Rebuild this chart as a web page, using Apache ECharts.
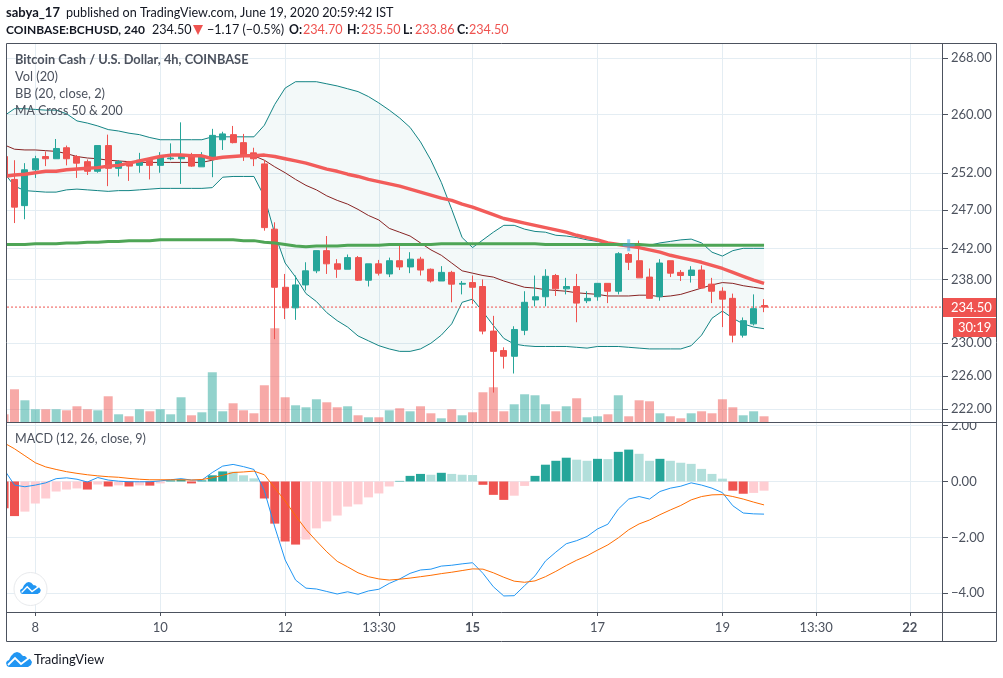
<!DOCTYPE html>
<html>
<head>
<meta charset="utf-8">
<style>html,body{margin:0;padding:0;background:#fff}#main{width:1003px;height:678px}</style>
<script src="https://cdn.jsdelivr.net/npm/echarts@6/dist/echarts.min.js"></script>
</head>
<body>
<div id="main"></div>
<script>
// 4h bars
const opens=[254.2,251.1,247.6,252.4,254.2,253.9,255.4,254.2,253.5,252.2,255.7,252.6,253.5,253.0,253.7,253.0,253.9,253.9,254.4,252.8,253.9,256.5,257.2,256.1,254.7,253.2,244.5,237.0,234.4,237.3,239.1,241.7,240.0,239.3,240.8,237.9,240.0,238.7,240.4,239.6,240.6,239.3,237.8,238.9,237.4,237.6,237.1,231.5,229.1,228.4,231.6,235.4,235.8,238.5,236.8,237.1,235.3,235.8,237.5,236.5,241.2,240.4,238.3,235.8,240.4,238.9,238.5,239.2,237.4,236.5,235.6,231.0,232.4,234.70];
const closes=[251.4,247.4,252.4,253.9,253.9,255.3,253.9,253.3,252.2,255.7,252.6,253.5,252.9,253.7,253.0,254.2,254.0,254.2,252.9,254.2,257.1,257.3,256.1,254.3,253.9,244.7,237.0,234.4,237.3,239.1,241.7,240.0,239.3,240.8,237.9,240.0,238.8,240.4,239.6,240.6,239.2,237.8,238.9,237.4,237.5,237.0,231.5,229.0,228.4,231.7,235.1,235.8,238.4,236.8,237.1,235.0,235.6,237.5,236.5,241.3,240.2,238.2,235.6,240.1,238.8,238.5,239.2,236.9,236.5,235.5,231.0,232.8,234.3,234.50];
const lows=[251.4,245.3,245.8,251.3,252.9,253.9,253.0,251.3,251.7,252.0,250.2,251.5,250.9,252.0,251.1,252.0,253.7,250.5,252.8,252.8,251.4,255.1,256.0,253.6,252.9,244.3,230.5,233.0,232.9,236.6,238.8,238.7,238.2,239.3,237.8,237.1,238.5,238.3,239.2,238.8,238.5,237.6,237.8,235.1,236.1,234.9,231.1,224.0,226.9,226.3,231.0,234.6,234.6,235.9,236.1,232.6,235.0,235.3,235.0,236.1,239.2,238.2,235.6,235.3,238.3,237.8,237.6,236.9,235.0,232.0,230.1,230.7,232.2,233.86];
const highs=[254.2,253.7,253.3,254.3,254.9,256.6,255.7,254.4,253.8,255.7,257.2,253.7,253.6,254.7,253.9,254.8,256.0,258.9,254.7,254.8,258.0,257.6,258.4,257.3,255.4,253.7,245.4,238.7,238.5,240.2,241.7,243.6,240.6,241.2,241.0,240.0,240.5,240.8,242.3,241.5,240.9,239.4,239.7,239.1,237.8,238.5,238.0,233.4,229.5,232.1,236.5,238.5,239.3,238.7,238.2,238.7,236.5,237.5,237.5,241.5,241.4,243.0,239.4,240.6,240.4,239.2,239.7,239.8,238.2,237.0,236.2,233.2,236.1,235.50];
const volumes=[8,33,22,13,13,13,12,16,13,12,26,8,6,13,11,13,8,25,7,10,50,11,19,12,9,37,94,25,17,15,23,20,15,16,7,5,5,12,14,11,16,9,4,13,7,10,30,35,11,18,28,27,18,11,16,24,5,6,8,27,6,22,21,9,6,4,9,11,9,23,15,7,11,6];
const bbUpper=[259.8,260.8,260.8,260.7,260.6,260.6,260.1,259.1,258.8,258.4,257.9,257.7,257.4,257.2,256.8,256.5,256.5,256.5,256.5,256.5,256.9,256.9,256.9,256.9,256.9,258.5,261.4,263.7,264.6,264.6,264.6,264.3,264.0,263.6,263.2,262.5,261.6,260.6,259.5,258.2,256.2,253.7,250.7,247.1,243.4,242.1,243.1,244.1,245.0,245.0,244.5,244.2,244.1,243.7,243.6,243.4,243.1,242.9,242.6,242.4,242.5,242.5,242.4,242.7,242.9,243.1,243.2,242.7,241.5,241.0,241.7,242.0,242.0,242.0];
const bbBasis=[255.8,255.2,255.1,255.1,255.0,254.9,254.6,254.2,254.0,253.9,253.7,253.6,253.5,253.4,253.4,253.4,253.4,253.4,253.4,253.4,253.7,254.1,254.2,254.3,254.3,253.7,252.8,252.0,251.1,250.3,249.7,248.9,248.3,247.8,247.1,246.3,245.7,244.6,244.1,243.6,242.7,241.8,241.1,240.1,239.1,238.8,238.5,238.3,237.8,237.4,237.0,236.9,236.7,236.6,236.5,236.3,236.2,236.1,235.9,235.9,235.9,236.0,236.0,235.8,235.9,236.1,236.5,236.9,237.3,237.6,237.5,237.2,237.0,236.8];
const bbLower=[252.0,250.2,249.6,249.5,249.4,249.4,249.7,249.8,249.7,249.6,249.5,249.6,249.6,249.7,249.8,249.9,249.9,249.9,249.9,249.9,250.0,251.4,251.5,251.5,251.5,248.8,243.9,240.1,238.3,236.2,235.2,233.8,232.8,232.0,230.9,230.3,229.7,229.3,229.0,229.0,229.3,230.0,231.0,232.4,235.1,235.5,233.9,232.2,230.6,229.9,229.7,229.6,229.6,229.6,229.6,229.5,229.4,229.6,229.6,229.6,229.5,229.4,229.3,229.3,229.3,229.3,229.7,231.0,233.1,234.0,233.1,232.4,232.0,231.8];
const ma50=[251.5,251.7,251.8,252.0,252.2,252.2,252.4,252.5,252.6,252.7,252.9,253.0,253.3,253.6,253.9,254.2,254.4,254.4,254.3,254.3,253.9,254.1,254.2,254.3,254.3,254.4,254.2,253.9,253.6,253.3,252.9,252.5,252.2,251.8,251.5,251.1,250.8,250.5,250.2,249.8,249.4,249.0,248.6,248.3,247.8,247.4,246.9,246.4,245.9,245.6,245.3,245.0,244.7,244.4,244.1,243.7,243.4,243.1,242.7,242.5,242.3,242.1,241.8,241.5,241.1,240.8,240.5,240.2,239.8,239.4,238.9,238.4,237.9,237.5];
const ma200=[242.5,242.5,242.5,242.6,242.6,242.6,242.7,242.7,242.8,242.8,242.9,242.9,243.0,243.0,243.0,243.1,243.1,243.1,243.1,243.1,243.1,243.1,243.1,243.0,243.0,242.8,242.7,242.5,242.3,242.2,242.3,242.3,242.3,242.4,242.4,242.4,242.4,242.5,242.5,242.5,242.5,242.5,242.6,242.6,242.6,242.6,242.6,242.6,242.6,242.6,242.6,242.6,242.5,242.5,242.5,242.5,242.5,242.5,242.5,242.5,242.5,242.5,242.4,242.4,242.4,242.4,242.4,242.4,242.4,242.4,242.4,242.4,242.4,242.4];
const macdHist=[-0.96,-1.24,-1.08,-0.79,-0.61,-0.36,-0.29,-0.25,-0.29,-0.11,-0.18,-0.14,-0.18,-0.14,-0.15,-0.07,0.04,0.07,-0.07,0.04,0.22,0.36,0.35,0.22,0.11,-0.61,-1.51,-2.15,-2.26,-2.08,-1.68,-1.43,-1.22,-0.90,-0.82,-0.57,-0.43,-0.18,0.02,0.20,0.27,0.24,0.31,0.27,0.24,0.23,-0.12,-0.48,-0.66,-0.51,-0.16,0.20,0.60,0.74,0.85,0.78,0.74,0.81,0.80,1.06,1.14,0.99,0.74,0.81,0.74,0.67,0.63,0.45,0.27,0.10,-0.33,-0.44,-0.41,-0.33];
const macdLine=[0.43,-0.13,-0.19,-0.13,-0.05,0.10,0.13,0.08,-0.02,0.14,0.05,0.01,-0.01,-0.01,-0.01,0.02,0.06,0.10,0.05,0.05,0.32,0.55,0.61,0.53,0.43,-0.33,-1.63,-2.81,-3.53,-3.82,-3.85,-3.94,-4.03,-3.95,-4.04,-3.92,-3.86,-3.65,-3.49,-3.29,-3.17,-3.14,-3.03,-3.00,-2.95,-2.91,-3.29,-3.77,-4.10,-4.09,-3.73,-3.38,-2.85,-2.53,-2.23,-2.12,-1.97,-1.70,-1.53,-0.99,-0.63,-0.54,-0.63,-0.36,-0.24,-0.17,-0.05,-0.13,-0.24,-0.40,-0.87,-1.13,-1.16,-1.17];
const macdSignal=[1.38,1.17,0.92,0.67,0.52,0.43,0.35,0.29,0.24,0.20,0.17,0.15,0.11,0.08,0.06,0.06,0.06,0.06,0.05,0.07,0.13,0.22,0.32,0.34,0.37,0.24,-0.23,-0.70,-1.23,-1.72,-2.13,-2.52,-2.86,-3.06,-3.27,-3.41,-3.49,-3.53,-3.50,-3.46,-3.41,-3.36,-3.30,-3.25,-3.19,-3.13,-3.14,-3.27,-3.43,-3.57,-3.61,-3.56,-3.41,-3.22,-3.01,-2.82,-2.66,-2.46,-2.27,-2.02,-1.73,-1.52,-1.38,-1.19,-1.02,-0.86,-0.66,-0.54,-0.48,-0.47,-0.54,-0.63,-0.74,-0.84];
const priceTicks=[222,226,230,238,242,247,252,260,268];
const macdTicks=[-4,-2,0,2];
const dayTickBars=[3,15,27,36,45,57,69,78,87];
const dayTickLabels=['8','10','12','13:30','15','17','19','13:30','22'];
const boldDayLabels=['15','22'];
const lastPrice=234.50;
const crossBar=60, crossPrice=242.4;

const UP='#26a69a',DOWN='#ef5350',TXT='#4c525e',GRID='#e4edf3',INK='#131722';
const FONT='Lato';
const chart=echarts.init(document.getElementById('main'),null,{renderer:'canvas'});

const barIdx=opens.map((_,i)=>i);
const pair=a=>a.map((v,i)=>[i,v]);
const xRange={min:0.28,max:90.19};

function histColor(i){
  const v=macdHist[i],prev=i?macdHist[i-1]:0;
  if(v>=0) return v>=prev?UP:'#b2dfdb';
  return v<prev?DOWN:'#ffcdd2';
}
function lineSeries(name,data,color,width){
  return {name,type:'line',xAxisIndex:0,yAxisIndex:0,data:pair(data),symbol:'none',silent:true,
    lineStyle:{color,width},z:5};
}
function txt(text,x,y,opt){
  return {type:'text',x,y,z:50,silent:true,style:Object.assign({text,fill:TXT,font:'12.6px '+FONT,textVerticalAlign:'middle',verticalAlign:'middle'},opt||{})};
}
function hline(x1,y,x2){return {type:'line',z:40,silent:true,shape:{x1,y1:y,x2,y2:y},style:{stroke:TXT,lineWidth:1}}}
function vline(x,y1,y2){return {type:'line',z:40,silent:true,shape:{x1:x,y1,x2:x,y2},style:{stroke:TXT,lineWidth:1}}}
const CLOUD=[[3,15],[1,14],[0,11],[1,9],[3,8],[5,4],[8,1],[11,0],[14,1],[17,4],[19,4],[21,6],[24,7],[26,10],[25,13],[22,15]];
function cloud(x,y,scale){
  return [
    {type:'polygon',x,y,scaleX:scale,scaleY:scale,z:45,silent:true,shape:{points:CLOUD},style:{fill:'#2196f3'}},
    {type:'polyline',x,y,scaleX:scale,scaleY:scale,z:46,silent:true,shape:{points:[[2,13],[9,6],[15,12],[23,6]]},style:{stroke:'#fff',lineWidth:1.8,fill:null}}
  ];
}
const boldFont='bold 12.3px '+FONT;

const option={
  backgroundColor:'#fff',
  animation:false,
  textStyle:{fontFamily:FONT},
  grid:[
    {left:7,right:60,top:44,height:378.3},
    {left:7,right:60,top:422.3,height:189.7}
  ],
  xAxis:[0,1].map(k=>({
    type:'value',gridIndex:k,min:xRange.min,max:xRange.max,
    axisLine:{show:false,onZero:false},
    axisTick:{show:k===1,customValues:dayTickBars,length:4,lineStyle:{color:TXT}},
    axisLabel:{show:k===1,customValues:dayTickBars,margin:9,color:TXT,fontSize:13,fontFamily:FONT,
      formatter:v=>{
        const s=dayTickLabels[dayTickBars.indexOf(v)];
        return boldDayLabels.includes(s)?'{b|'+s+'}':s;
      },
      rich:{b:{fontWeight:'bold',color:TXT,fontSize:13,fontFamily:FONT}}},
    splitLine:{show:true,lineStyle:{color:GRID,width:1}}
  })),
  yAxis:[
    {type:'log',logBase:10,gridIndex:0,position:'right',min:220.46,max:270,
      axisLine:{show:false},
      axisTick:{show:true,customValues:priceTicks,length:5,lineStyle:{color:TXT}},
      axisLabel:{customValues:priceTicks,margin:8,color:TXT,fontSize:13,fontFamily:FONT,hideOverlap:false,padding:[2,0,0,0],
        formatter:v=>Number(v).toFixed(2)},
      splitLine:{show:true,lineStyle:{color:GRID,width:1}}
    },
    {type:'value',gridIndex:0,min:0,max:378,show:false,splitLine:{show:false}},
    {type:'value',gridIndex:1,position:'right',min:-4.674,max:2.118,
      axisLine:{show:false},
      axisTick:{show:true,customValues:macdTicks,length:5,lineStyle:{color:TXT}},
      axisLabel:{customValues:macdTicks,margin:8,color:TXT,fontSize:13,fontFamily:FONT,hideOverlap:false,padding:[2,0,0,0],
        formatter:v=>Number(v).toFixed(2).replace('-','\u2212')},
      splitLine:{show:true,lineStyle:{color:GRID,width:1}}
    }
  ],
  series:[
    // band fill between upper and lower
    {name:'BB fill',type:'custom',xAxisIndex:0,yAxisIndex:0,silent:true,z:1,clip:true,
      data:bbUpper.map((v,i)=>[i,v,bbLower[i]]),encode:{x:0,y:[1,2]},
      renderItem:(params,api)=>{
        if(params.dataIndex!==0) return;
        const pts=bbUpper.map((v,i)=>api.coord([i,v])).concat(bbLower.map((v,i)=>api.coord([i,v])).reverse());
        return {type:'polygon',shape:{points:pts},style:{fill:'rgba(19,132,132,0.05)'}};
      }},
    Object.assign(lineSeries('BB upper',bbUpper,'#138484',1),{z:2}),
    Object.assign(lineSeries('BB lower',bbLower,'#138484',1),{z:2}),
    {name:'Vol',type:'bar',xAxisIndex:0,yAxisIndex:1,barWidth:9,silent:true,z:3,
      data:volumes.map((v,i)=>({value:[i,v],itemStyle:{color:closes[i]>=opens[i]?'rgba(38,166,154,0.5)':'rgba(239,83,80,0.5)'}}))},
    lineSeries('BB basis',bbBasis,'#872323',1),
    // last price line, dotted across the whole pane
    {name:'Last',type:'line',xAxisIndex:0,yAxisIndex:0,symbol:'none',silent:true,z:4,
      data:[[xRange.min,lastPrice],[xRange.max,lastPrice]],
      lineStyle:{color:DOWN,width:1,type:[2,2]}},
    {name:'BCHUSD',type:'candlestick',xAxisIndex:0,yAxisIndex:0,barWidth:6.5,silent:true,z:6,
      data:barIdx.map(i=>[i,opens[i],closes[i],lows[i],highs[i]]),
      itemStyle:{color:UP,color0:DOWN,borderColor:UP,borderColor0:DOWN,borderWidth:1}},
    Object.assign(lineSeries('MA 50',ma50,'#f25c5a',3.4),{z:7}),
    Object.assign(lineSeries('MA 200',ma200,'#4ea556',3),{z:7}),
    {name:'Cross',type:'scatter',xAxisIndex:0,yAxisIndex:0,silent:true,z:8,
      symbol:'path://M3 0H5V3H8V5H5V8H3V5H0V3H3Z',symbolSize:12,
      itemStyle:{color:'rgba(64,170,235,0.7)'},data:[[crossBar,crossPrice]]},
    {name:'Hist',type:'bar',xAxisIndex:1,yAxisIndex:2,barWidth:9,silent:true,z:3,
      data:macdHist.map((v,i)=>({value:[i,v],itemStyle:{color:histColor(i)}}))},
    {name:'MACD',type:'line',xAxisIndex:1,yAxisIndex:2,data:pair(macdLine),symbol:'none',silent:true,lineStyle:{color:'#2196f3',width:1},z:5},
    {name:'Signal',type:'line',xAxisIndex:1,yAxisIndex:2,data:pair(macdSignal),symbol:'none',silent:true,lineStyle:{color:'#ff6d00',width:1},z:5}
  ],
  graphic:[
    // the first bar is cut off by the left edge of the panes
    {type:'rect',z:35,silent:true,shape:{x:0,y:44,width:6.5,height:598},style:{fill:'#fff'}},
    // cover for the 2.00 label, it is cut off by the pane line
    {type:'rect',z:30,silent:true,shape:{x:943,y:416,width:53,height:6.5},style:{fill:'#fff'}},
    // frame
    {type:'rect',z:40,silent:true,shape:{x:6.5,y:43.5,width:990,height:598},style:{fill:null,stroke:TXT,lineWidth:1}},
    vline(942.5,43.5,641.5),
    hline(6.5,422.5,942.5),hline(942.5,422.5,996.5),
    hline(6.5,612.5,996.5),
    // header
    txt('sabya_17',6,13,{font:'bold 13px '+FONT,fill:INK}),
    txt('published on TradingView.com, June 19, 2020 20:59:42 IST',66,13,{fill:INK}),
    txt('COINBASE:BCHUSD, 240',6,30,{font:'bold 12px '+FONT,fill:INK}),
    txt('234.50',152,30,{fill:INK}),
    {type:'polygon',z:50,silent:true,shape:{points:[[193,25],[203,25],[198,35]]},style:{fill:DOWN}},
    txt('\u22121.17 (\u22120.5%)',207,30,{fill:INK}),
    txt('O:',289,30,{font:boldFont,fill:INK}),txt('234.70',303,30,{fill:DOWN}),
    txt('H:',347,30,{font:boldFont,fill:INK}),txt('235.50',361,30,{fill:DOWN}),
    txt('L:',403,30,{font:boldFont,fill:INK}),txt('233.86',415,30,{fill:DOWN}),
    txt('C:',457,30,{font:boldFont,fill:INK}),txt('234.50',469,30,{fill:DOWN}),
    // pane legends
    txt('Bitcoin Cash / U.S. Dollar, 4h, COINBASE',15,60,{font:'bold 12.8px '+FONT}),
    txt('Vol (20)',15,77,{font:'12.8px '+FONT}),
    txt('BB (20, close, 2)',15,94,{font:'12.8px '+FONT}),
    txt('MA Cross 50 & 200',15,111,{font:'12.4px '+FONT}),
    txt('MACD (12, 26, close, 9)',15,439),
    // price tags
    {type:'rect',z:48,silent:true,shape:{x:943,y:298,width:53,height:19},style:{fill:DOWN}},
    txt('234.50',951,307.5,{fill:'#fff',font:'13px '+FONT}),
    {type:'rect',z:48,silent:true,shape:{x:953,y:318,width:43,height:19},style:{fill:DOWN}},
    txt('30:19',958,327.5,{fill:'#fff',font:'13px '+FONT}),
    // logos
    {type:'circle',z:44,silent:true,shape:{cx:30.5,cy:589,r:16.5},style:{fill:'#fff',stroke:'#e8eaed',lineWidth:1}},
    ...cloud(20,582,0.8),
    ...cloud(6,652,1),
    txt('TradingView',34,660,{fill:INK,font:'13px '+FONT})
  ]
};
chart.setOption(option);
</script>
</body>
</html>
